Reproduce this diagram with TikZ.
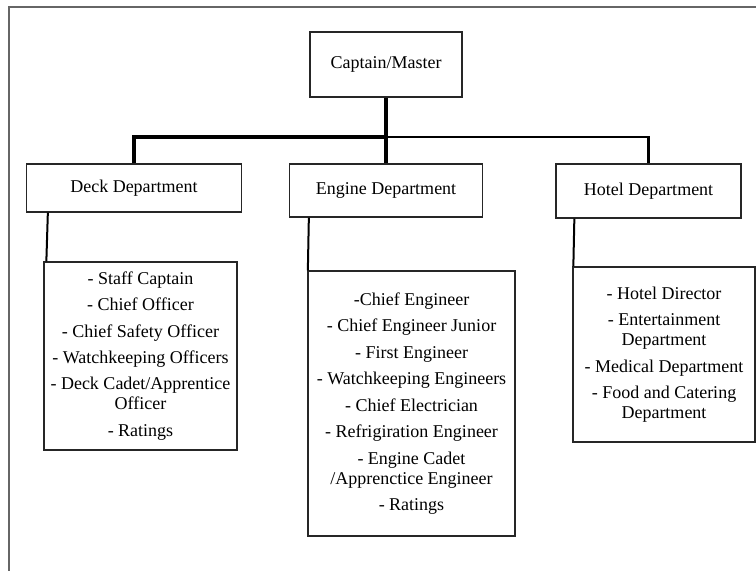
\documentclass[tikz,border=0pt]{standalone}
\usepackage{fontspec}
\setmainfont{Liberation Serif}
\usetikzlibrary{calc}
\begin{document}
\begin{tikzpicture}[x=1pt,y=-1pt,
  every node/.style={font=\fontsize{18}{20}\selectfont},
  box/.style={draw=black!85,line width=1.3pt,rectangle,inner sep=0pt,align=center},
  thickline/.style={line width=3.5pt,black},
  midline/.style={line width=2.6pt,black},
  subline/.style={line width=2pt,black},
  frameline/.style={line width=2pt,black!60}]
\useasboundingbox (0,0) rectangle (756,571);
% outer frame (cropped)
\draw[frameline] (9,571) -- (9,7) -- (756,7);
% nodes
\node[box,minimum width=152pt,minimum height=65pt] (cap) at (386,64.5) {Captain/Master};
\node[box,minimum width=215pt,minimum height=48pt] (deck) at (134,188) {Deck Department};
\node[box,minimum width=193pt,minimum height=53pt] (engine) at (386,190.5) {Engine Department};
\node[box,minimum width=185pt,minimum height=54pt] (hotel) at (648.5,191) {Hotel Department};
\node[box,minimum width=193pt,minimum height=188pt] (decklist) at (140.5,356)
  {- Staff Captain\\[6.3pt]
   - Chief Officer\\[6.3pt]
   - Chief Safety Officer\\[6.3pt]
   - Watchkeeping Officers\\[6.3pt]
   - Deck Cadet/Apprentice\\Officer\\[6.3pt]
   - Ratings};
\node[box,minimum width=207pt,minimum height=265pt] (enginelist) at (411.5,403.5)
  {-Chief Engineer\\[6.5pt]
   - Chief Engineer Junior\\[6.5pt]
   - First Engineer\\[6.5pt]
   - Watchkeeping Engineers\\[6.5pt]
   - Chief Electrician\\[6.5pt]
   - Refrigiration Engineer\\[6.5pt]
   - Engine Cadet\\/Apprenctice Engineer\\[6.5pt]
   - Ratings};
\node[box,minimum width=182pt,minimum height=175pt] (hotellist) at (664,354.5)
  {- Hotel Director\\[6.5pt]
   - Entertainment\\Department\\[6.5pt]
   - Medical Department\\[6.5pt]
   - Food and Catering\\Department};
% connectors
\coordinate (bar) at (386,137);
\draw[thickline] (cap.south) -- (bar);
\draw[thickline] (deck.north) |- (bar) -- (engine.north);
\draw[midline] (bar) -| (hotel.north);
\draw[subline] ($(deck.south west)+(22,0)$) -- ($(decklist.north west)+(3,0)$);
\draw[subline] ($(engine.south west)+(20,0)$) -- ($(enginelist.north west)+(0.5,0)$);
\draw[subline] ($(hotel.south west)+(19,0)$) -- ($(hotellist.north west)+(1,0)$);
\end{tikzpicture}
\end{document}
